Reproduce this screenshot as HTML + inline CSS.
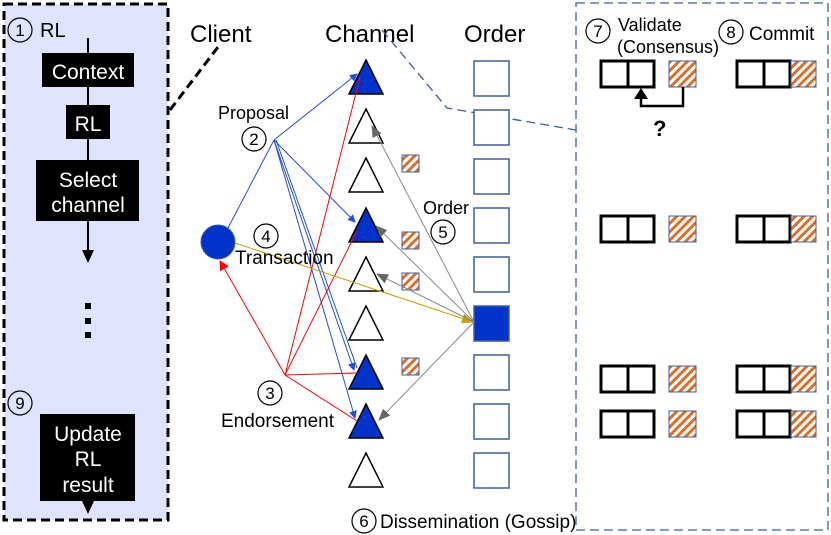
<!DOCTYPE html>
<html><head><meta charset="utf-8"><style>
html,body{margin:0;padding:0;background:#fff;}
svg{display:block;font-family:"Liberation Sans",Arial,sans-serif;}
</style></head><body>
<svg width="831" height="535" viewBox="0 0 831 535" xmlns="http://www.w3.org/2000/svg">
<defs>
<pattern id="h" patternUnits="userSpaceOnUse" width="6" height="6" patternTransform="rotate(45)">
<rect width="6" height="6" fill="#fff"/><rect width="3" height="6" fill="#d9712b"/>
</pattern>
<marker id="ab" markerWidth="8" markerHeight="8" refX="7" refY="4" orient="auto" markerUnits="userSpaceOnUse"><path d="M0,0 L8,4 L0,8 z" fill="#1f4fe0"/></marker>
<marker id="ar" markerWidth="10" markerHeight="10" refX="9" refY="5" orient="auto" markerUnits="userSpaceOnUse"><path d="M0,0 L10,5 L0,10 z" fill="#f00"/></marker>
<marker id="ag" markerWidth="12" markerHeight="10" refX="11" refY="5" orient="auto" markerUnits="userSpaceOnUse"><path d="M0,0 L12,5 L0,10 z" fill="#666"/></marker>
<marker id="ay" markerWidth="12" markerHeight="10" refX="11" refY="5" orient="auto" markerUnits="userSpaceOnUse"><path d="M0,0 L12,5 L0,10 z" fill="#c9a000"/></marker>
</defs>

<!-- left panel -->
<rect x="4" y="4" width="164" height="516" fill="#dfe4fc" stroke="#000" stroke-width="3" stroke-dasharray="9,5"/>
<circle cx="20" cy="30" r="12" fill="none" stroke="#000" stroke-width="1.2"/>
<text x="20" y="36" font-size="17" text-anchor="middle">1</text>
<text x="40" y="37" font-size="20">RL</text>
<line x1="88" y1="38" x2="88" y2="252" stroke="#000" stroke-width="2"/>
<path d="M82,250 L94,250 L88,263 z" fill="#000"/>
<rect x="42" y="53" width="92" height="34" fill="#000"/>
<text x="88" y="79" font-size="21" fill="#fff" text-anchor="middle">Context</text>
<rect x="66" y="105" width="44" height="34" fill="#000"/>
<text x="88" y="131" font-size="21" fill="#fff" text-anchor="middle">RL</text>
<rect x="36" y="160" width="103" height="61" fill="#000"/>
<text x="88" y="187" font-size="21" fill="#fff" text-anchor="middle">Select</text>
<text x="88" y="212" font-size="21" fill="#fff" text-anchor="middle">channel</text>
<rect x="85" y="303" width="6" height="6" fill="#000"/>
<rect x="85" y="318" width="6" height="6" fill="#000"/>
<rect x="85" y="332" width="6" height="6" fill="#000"/>
<circle cx="20" cy="403" r="12" fill="none" stroke="#000" stroke-width="1.2"/>
<text x="20" y="409" font-size="17" text-anchor="middle">9</text>
<rect x="40" y="414" width="95" height="87" fill="#000"/>
<text x="88" y="441" font-size="21" fill="#fff" text-anchor="middle">Update</text>
<text x="88" y="466" font-size="21" fill="#fff" text-anchor="middle">RL</text>
<text x="88" y="492" font-size="21" fill="#fff" text-anchor="middle">result</text>
<path d="M82,501 L94,501 L88,514 z" fill="#000"/>
<line x1="170" y1="110" x2="218" y2="47" stroke="#000" stroke-width="3" stroke-dasharray="9,5"/>

<!-- titles -->
<text x="190" y="42" font-size="24">Client</text>
<text x="325" y="42" font-size="24">Channel</text>
<text x="464" y="42" font-size="24">Order</text>

<!-- right dashed -->
<polyline points="382,30 447,108 576,130" fill="none" stroke="#3a5fa0" stroke-width="1.3" stroke-dasharray="9,5"/>
<rect x="576" y="3" width="252" height="527" fill="none" stroke="#3a5fa0" stroke-width="1.3" stroke-dasharray="9,5"/>

<!-- order squares -->
<g fill="#fff" stroke="#3a5fa0" stroke-width="1.5">
<rect x="474" y="61" width="35" height="35"/><rect x="474" y="110" width="35" height="35"/>
<rect x="474" y="159" width="35" height="35"/><rect x="474" y="208" width="35" height="35"/>
<rect x="474" y="257" width="35" height="35"/><rect x="474" y="306" width="35" height="35" fill="#0033cc"/>
<rect x="474" y="355" width="35" height="35"/><rect x="474" y="404" width="35" height="35"/>
<rect x="474" y="453" width="35" height="35"/>
</g>

<!-- triangles -->
<g stroke="#000" stroke-width="1.5">
<path d="M366,60 L383,94 L349,94 z" fill="#0033cc"/>
<path d="M366,109 L383,143 L349,143 z" fill="#fff"/>
<path d="M366,158 L383,192 L349,192 z" fill="#fff"/>
<path d="M366,208 L383,242 L349,242 z" fill="#0033cc"/>
<path d="M366,257 L383,291 L349,291 z" fill="#fff"/>
<path d="M366,306 L383,340 L349,340 z" fill="#fff"/>
<path d="M366,355 L383,389 L349,389 z" fill="#0033cc"/>
<path d="M366,404 L383,438 L349,438 z" fill="#0033cc"/>
<path d="M366,453 L383,487 L349,487 z" fill="#fff"/>
</g>

<!-- hatched small -->
<g fill="url(#h)" stroke="#3a5fa0" stroke-width="1">
<rect x="402" y="155" width="17" height="17"/><rect x="402" y="232" width="17" height="17"/>
<rect x="402" y="273" width="17" height="17"/><rect x="402" y="358" width="17" height="17"/>
</g>

<!-- client -->
<circle cx="218" cy="242" r="17" fill="#0033cc" stroke="#3a5fa0"/>

<!-- blue lines -->
<g stroke="#1f4fe0" stroke-width="1" fill="none">
<line x1="228" y1="228" x2="274" y2="140"/>
<line x1="274" y1="140" x2="357" y2="74" marker-end="url(#ab)"/>
<line x1="274" y1="140" x2="355" y2="222" marker-end="url(#ab)"/>
<line x1="274" y1="140" x2="354" y2="370" marker-end="url(#ab)"/>
<line x1="274" y1="140" x2="355" y2="418" marker-end="url(#ab)"/>
<line x1="276" y1="140" x2="357" y2="368"/>
</g>
<!-- red -->
<g stroke="#f00" stroke-width="1" fill="none">
<line x1="285" y1="375" x2="220" y2="261" marker-end="url(#ar)"/>
<line x1="285" y1="375" x2="360" y2="77"/>
<line x1="285" y1="375" x2="357" y2="231"/>
<line x1="285" y1="375" x2="357" y2="373"/>
<line x1="285" y1="375" x2="357" y2="421"/>
</g>
<!-- yellow -->
<line x1="235" y1="243" x2="473" y2="322" stroke="#c9a000" stroke-width="1" marker-end="url(#ay)"/>
<!-- gray -->
<g stroke="#888" stroke-width="1">
<line x1="474" y1="322" x2="372" y2="126" marker-end="url(#ag)"/>
<line x1="474" y1="322" x2="376" y2="226" marker-end="url(#ag)"/>
<line x1="474" y1="322" x2="377" y2="274" marker-end="url(#ag)"/>
<line x1="474" y1="322" x2="379" y2="420" marker-end="url(#ag)"/>
</g>

<!-- labels -->
<g font-size="17">
<text x="218" y="119" font-size="18">Proposal</text>
<circle cx="254" cy="139" r="12" fill="none" stroke="#000" stroke-width="1.2"/><text x="254" y="145" text-anchor="middle">2</text>
<circle cx="266" cy="236" r="12" fill="none" stroke="#000" stroke-width="1.2"/><text x="266" y="242" text-anchor="middle">4</text>
<text x="235" y="264" font-size="19">Transaction</text>
<circle cx="270" cy="393" r="12" fill="none" stroke="#000" stroke-width="1.2"/><text x="270" y="399" text-anchor="middle">3</text>
<text x="221" y="427" font-size="19">Endorsement</text>
<text x="423" y="214" font-size="18">Order</text>
<circle cx="443" cy="232" r="12" fill="none" stroke="#000" stroke-width="1.2"/><text x="443" y="238" text-anchor="middle">5</text>
<circle cx="364" cy="521" r="12" fill="none" stroke="#000" stroke-width="1.2"/><text x="364" y="527" text-anchor="middle">6</text>
<text x="380" y="528" font-size="19">Dissemination (Gossip)</text>
<circle cx="598" cy="31" r="12" fill="none" stroke="#000" stroke-width="1.2"/><text x="598" y="37" text-anchor="middle">7</text>
<text x="618" y="31" font-size="18">Validate</text>
<text x="617" y="53" font-size="18">(Consensus)</text>
<circle cx="731" cy="32" r="12" fill="none" stroke="#000" stroke-width="1.2"/><text x="731" y="38" text-anchor="middle">8</text>
<text x="749" y="40" font-size="19">Commit</text>
</g>

<!-- blocks -->
<g stroke="#000" stroke-width="3" fill="#fff">
<rect x="601" y="61" width="53" height="26"/><line x1="628" y1="61" x2="628" y2="87"/>
<rect x="737" y="61" width="53" height="26"/><line x1="764" y1="61" x2="764" y2="87"/>
<rect x="601" y="216" width="53" height="26"/><line x1="628" y1="216" x2="628" y2="242"/>
<rect x="737" y="216" width="53" height="26"/><line x1="764" y1="216" x2="764" y2="242"/>
<rect x="601" y="366" width="53" height="26"/><line x1="628" y1="366" x2="628" y2="392"/>
<rect x="737" y="366" width="53" height="26"/><line x1="764" y1="366" x2="764" y2="392"/>
<rect x="601" y="411" width="53" height="26"/><line x1="628" y1="411" x2="628" y2="437"/>
<rect x="737" y="411" width="53" height="26"/><line x1="764" y1="411" x2="764" y2="437"/>
</g>
<g fill="url(#h)" stroke="#3a5fa0" stroke-width="1">
<rect x="669" y="61" width="27" height="26"/><rect x="791" y="61" width="25" height="26"/>
<rect x="669" y="216" width="27" height="26"/><rect x="791" y="216" width="25" height="26"/>
<rect x="669" y="366" width="27" height="26"/><rect x="791" y="366" width="25" height="26"/>
<rect x="669" y="411" width="27" height="26"/><rect x="791" y="411" width="25" height="26"/>
</g>
<polyline points="683,87 683,106 641,106 641,97" fill="none" stroke="#000" stroke-width="2.5"/>
<path d="M634,99 L648,99 L641,88 z" fill="#000"/>
<text x="653" y="136" font-size="22" font-weight="bold">?</text>
</svg>
</body></html>
